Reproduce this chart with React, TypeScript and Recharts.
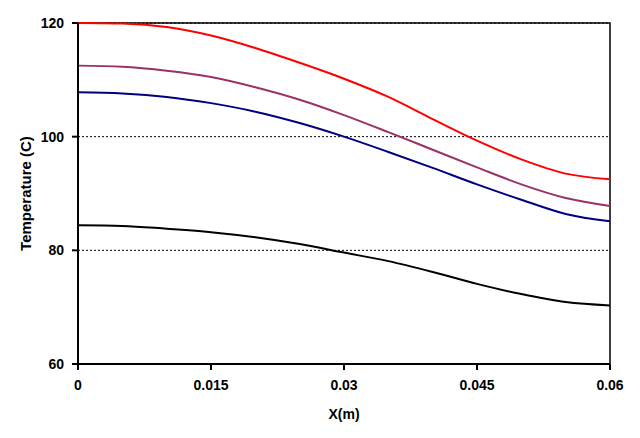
import {
  LineChart,
  Line,
  XAxis,
  YAxis,
  CartesianGrid,
  ReferenceArea,
} from "recharts";

const positions = [0, 0.005, 0.01, 0.015, 0.02, 0.025, 0.03, 0.035, 0.04, 0.045, 0.05, 0.055, 0.06];

const redTemps = [120, 119.9, 119.3, 117.8, 115.6, 113.0, 110.2, 107.0, 103.1, 99.3, 96.0, 93.5, 92.5];
const plumTemps = [112.5, 112.3, 111.6, 110.5, 108.7, 106.5, 103.8, 100.8, 97.7, 94.6, 91.6, 89.2, 87.8];
const navyTemps = [107.8, 107.6, 107.0, 105.9, 104.4, 102.4, 100.0, 97.3, 94.5, 91.6, 88.9, 86.4, 85.1];
const blackTemps = [84.4, 84.3, 83.8, 83.2, 82.3, 81.1, 79.6, 78.1, 76.2, 74.1, 72.3, 70.9, 70.3];

const xTicks = [0, 0.015, 0.03, 0.045, 0.06];
const yTicks = [60, 80, 100, 120];

const data = positions.map((x, i) => ({
  x,
  red: redTemps[i],
  plum: plumTemps[i],
  navy: navyTemps[i],
  black: blackTemps[i],
}));

const font = "'Liberation Sans', Arial, sans-serif";

const tickStyle = {
  fontSize: 14,
  fontWeight: "bold" as const,
  fill: "#000",
  fontFamily: font,
};

const labelStyle = {
  fontSize: 14,
  fontWeight: "bold" as const,
  fill: "#000",
  fontFamily: font,
  textAnchor: "middle" as const,
};

export default function App() {
  return (
    <div style={{ position: "absolute", left: 0, top: 0, background: "#fff" }}>
      <LineChart
        width={640}
        height={438}
        data={data}
        margin={{ top: 23, right: 30, left: 0, bottom: 0 }}
      >
        <CartesianGrid
          vertical={false}
          stroke="#000"
          strokeDasharray="2 2"
          strokeWidth={1}
        />
        <XAxis
          dataKey="x"
          type="number"
          domain={[0, 0.06]}
          ticks={xTicks}
          tickFormatter={(v) => String(v)}
          height={74}
          stroke="#000"
          strokeWidth={2}
          tickSize={6}
          tickMargin={10}
          tick={tickStyle}
          label={{
            value: "X(m)",
            position: "insideBottom",
            offset: 19,
            style: labelStyle,
          }}
        />
        <YAxis
          type="number"
          domain={[60, 120]}
          ticks={yTicks}
          width={78}
          stroke="#000"
          strokeWidth={2}
          tickSize={6}
          tickMargin={8}
          tick={tickStyle}
          label={{
            value: "Temperature (C)",
            angle: -90,
            position: "insideLeft",
            offset: 26,
            style: { ...labelStyle, fontSize: 15 },
          }}
        />
        <ReferenceArea
          x1={0}
          x2={0.06}
          y1={60}
          y2={120}
          fill="none"
          stroke="#000"
          strokeWidth={1.5}
          ifOverflow="visible"
        />
        <Line type="monotone" dataKey="black" stroke="#000000" strokeWidth={2} dot={false} isAnimationActive={false} />
        <Line type="monotone" dataKey="navy" stroke="#000080" strokeWidth={2} dot={false} isAnimationActive={false} />
        <Line type="monotone" dataKey="plum" stroke="#993366" strokeWidth={2} dot={false} isAnimationActive={false} />
        <Line type="monotone" dataKey="red" stroke="#FF0000" strokeWidth={2} dot={false} isAnimationActive={false} />
      </LineChart>
    </div>
  );
}
